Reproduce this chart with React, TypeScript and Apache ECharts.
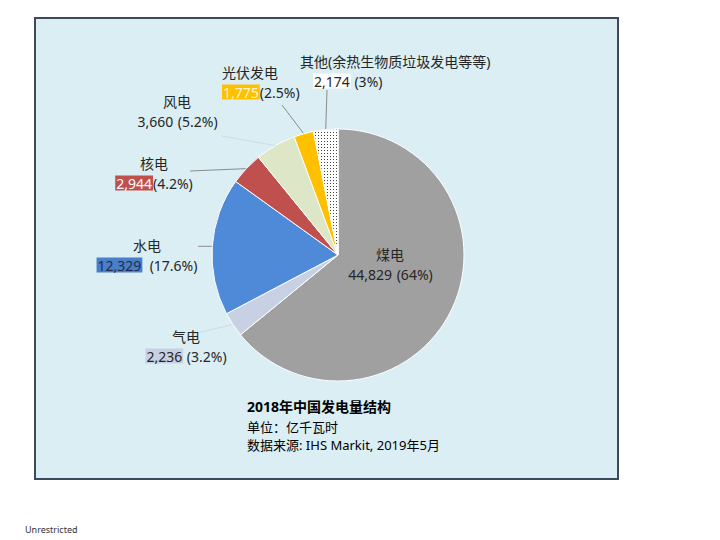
import React, { useEffect, useRef } from "react";
import * as echarts from "echarts";

const categories = ["煤电", "气电", "水电", "核电", "风电", "光伏发电", "其他(余热生物质垃圾发电等等)"];
const values = [44829, 2236, 12329, 2944, 3660, 1775, 2174];
const percentLabels = ["64%", "3.2%", "17.6%", "4.2%", "5.2%", "2.5%", "3%"];
const sliceColors = ["#a0a0a0", "#c8d0e4", "#4f8ad8", "#c0504d", "#dde6c6", "#ffc000", "#ffffff"];
const valueBg = ["transparent", "#c8d0e4", "#4a7ec8", "#c0504d", "transparent", "#ffc000", "#ffffff"];
const valueFg = ["#262626", "#262626", "#1f2d4a", "#ffffff", "#262626", "#fff6cc", "#262626"];
const valueGap = [" ", " ", "  ", "", " ", "", " "];
const titleLines = ["2018年中国发电量结构", "单位：亿千瓦时", "数据来源: IHS Markit, 2019年5月"];

// layout (positions only)
const labelPos: [number, number, string][] = [
  [390, 264, "center"],
  [186, 346, "center"],
  [147, 255, "center"],
  [154, 173, "center"],
  [177, 111, "center"],
  [222, 82, "left"],
  [300, 71, "left"],
];
const lineEnds: ([number, number | null] | null)[] = [
  null,
  [192, 334],
  [198, null],
  [190, 171],
  [222, 136],
  [282, 105],
  [327, 90],
];
const lineColors = ["#999", "#c9dde4", "#8c8c8c", "#8c8c8c", "#c9dde4", "#8c8c8c", "#8c8c8c"];

const FONT = '"Noto Sans", "Noto Sans CJK SC", sans-serif';

export default function App() {
  const ref = useRef<HTMLDivElement>(null);
  useEffect(() => {
    if (!ref.current) return;
    const chart = echarts.init(ref.current, undefined, { renderer: "svg" });
    const rich: any = {
      n: { fontSize: 14, color: "#262626", fontFamily: FONT, lineHeight: 20 },
      p: { fontSize: 14, color: "#262626", fontFamily: FONT, lineHeight: 20 },
      s: { fontSize: 14, width: 13, lineHeight: 20 },
    };
    values.forEach((_, i) => {
      rich["v" + i] = {
        fontSize: 14,
        fontFamily: FONT,
        color: valueFg[i],
        backgroundColor: valueBg[i],
        padding: [1, 1, 0, 1],
        lineHeight: 20,
      };
    });
    const data = values.map((v, i) => {
      const item: any = {
        name: categories[i],
        value: v,
        itemStyle: { color: sliceColors[i] },
        labelLine: { show: i !== 0, lineStyle: { color: lineColors[i], width: 1 } },
      };
      if (i === 0) item.label = { position: "inside" };
      if (i === 6) {
        item.itemStyle.decal = {
          symbol: "rect",
          symbolSize: 0.8,
          color: "#111",
          backgroundColor: "#ffffff",
          dashArrayX: [1, 2],
          dashArrayY: [1, 2],
          rotation: 0,
        };
      }
      return item;
    });
    chart.setOption({
      animation: false,
      backgroundColor: "#ffffff",
      graphic: [
        {
          type: "rect",
          z: -10,
          shape: { x: 35, y: 18, width: 583, height: 461 },
          style: { fill: "#daeef3", stroke: "#3c4a5e", lineWidth: 2 },
        },
        {
          type: "text",
          z: 10,
          left: 247,
          top: 399,
          style: {
            text: titleLines[0],
            font: "bold 14px " + FONT,
            fill: "#000",
          },
        },
        {
          type: "text",
          z: 10,
          left: 247,
          top: 420,
          style: { text: titleLines[1], font: "13px " + FONT, fill: "#000" },
        },
        {
          type: "text",
          z: 10,
          left: 247,
          top: 438,
          style: { text: titleLines[2], font: "13px " + FONT, fill: "#000" },
        },
        {
          type: "text",
          z: 10,
          left: 25,
          top: 525,
          style: { text: "Unrestricted", font: "9px " + FONT, fill: "#333" },
        },
      ],
      series: [
        {
          type: "pie",
          center: [338, 255],
          radius: [0, 126],
          startAngle: 90,
          clockwise: true,
          avoidLabelOverlap: false,
          minShowLabelAngle: 0,
          itemStyle: { borderColor: "#ffffff", borderWidth: 1 },
          label: {
            show: true,
            position: "outside",
            fontFamily: FONT,
            fontSize: 14,
            color: "#262626",
            rich,
            formatter: (p: any) => {
              const i = p.dataIndex;
              const val = values[i].toLocaleString("en-US");
              const sp = i === 6 ? "{s| }" : "";
              return `{n|${categories[i]}}\n${sp}{v${i}|${val}}{p|${valueGap[i]}(${percentLabels[i]})}`;
            },
          },
          labelLine: { show: true, length: 10, length2: 10 },
          labelLayout: (params: any) => {
            const i = params.dataIndex;
            const p = labelPos[i];
            const res: any = { x: p[0], y: p[1], align: p[2], verticalAlign: "middle" };
            const lp = params.labelLinePoints;
            const e = lineEnds[i];
            if (lp && lp.length && e) {
              const s = lp[0];
              const ey = e[1] == null ? s[1] : e[1];
              res.labelLinePoints = [
                [s[0], s[1]],
                [e[0], ey],
              ];
            }
            return res;
          },
          data,
        },
      ],
    });
    return () => chart.dispose();
  }, []);
  return (
    <div
      ref={ref}
      style={{ position: "fixed", left: 0, top: 0, width: 720, height: 540 }}
    />
  );
}
